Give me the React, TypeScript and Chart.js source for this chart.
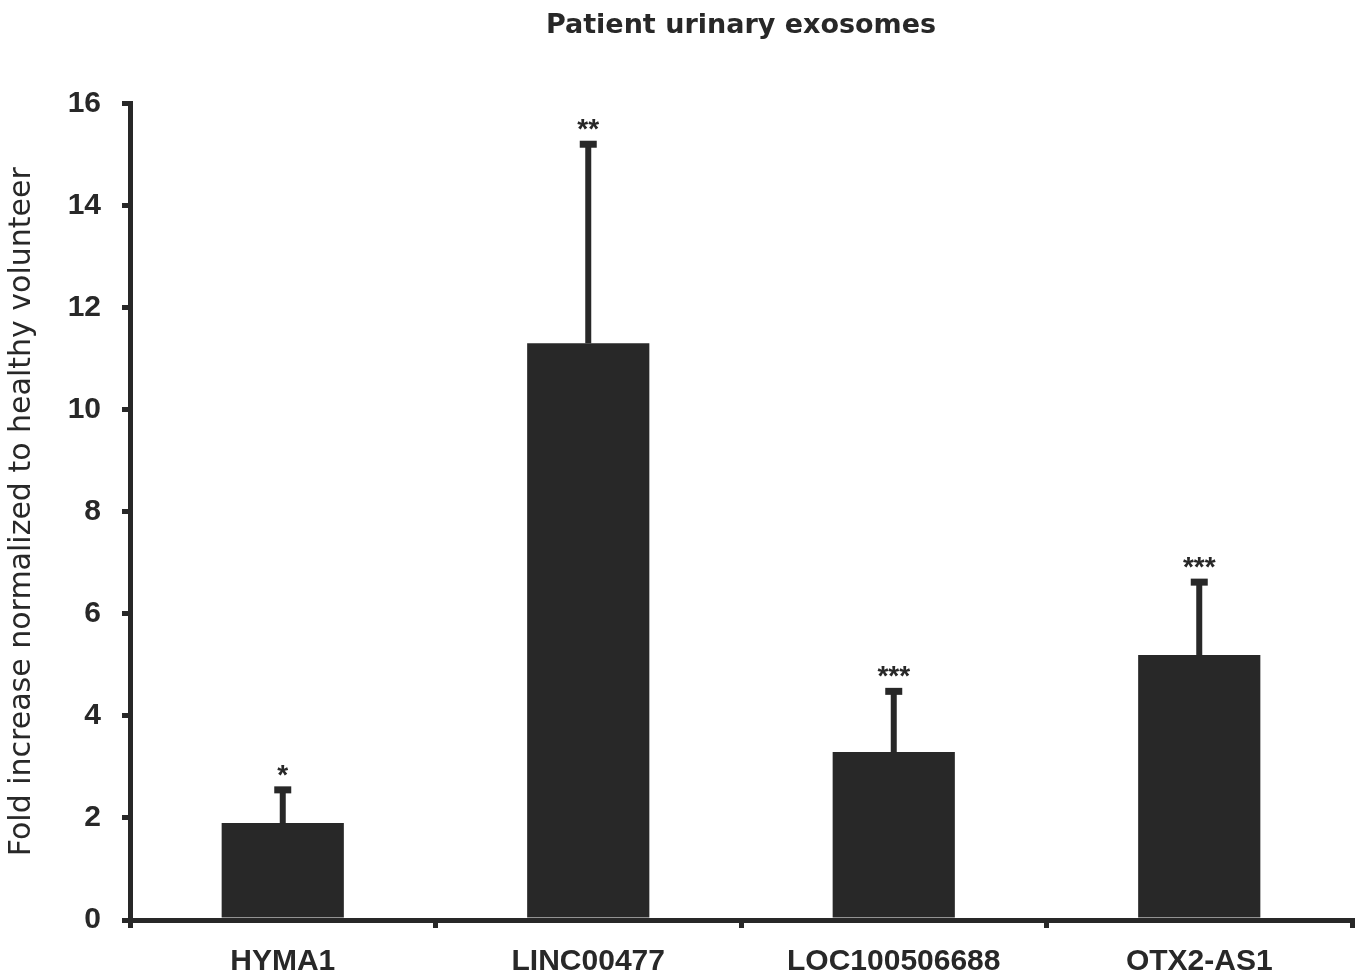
import React, { useEffect, useRef } from "react";
import { Chart, registerables } from "chart.js";

Chart.register(...registerables);

const categories = ["HYMA1", "LINC00477", "LOC100506688", "OTX2-AS1"];
const foldIncrease = [1.9, 11.3, 3.29, 5.19];
const errorUpper = [0.65, 3.9, 1.19, 1.43];
const significance = ["*", "**", "***", "***"];
const yTickMin = 0;
const yTickMax = 16;
const yTickStep = 2;

const INK = "#282828";

const errorBarPlugin = {
  id: "errorBars",
  afterDatasetsDraw(chart: any) {
    const meta = chart.getDatasetMeta(0);
    const yScale = chart.scales.y;
    const ctx = chart.ctx;
    ctx.save();
    meta.data.forEach((bar: any, i: number) => {
      const x = bar.x;
      const yTop = yScale.getPixelForValue(foldIncrease[i]);
      const yErr = yScale.getPixelForValue(foldIncrease[i] + errorUpper[i]);
      ctx.fillStyle = INK;
      ctx.fillRect(x - 3, yErr, 6, yTop - yErr);
      ctx.fillRect(x - 8.5, yErr - 3.5, 17, 7);
      ctx.font = "bold 28px 'Liberation Sans', Arial, sans-serif";
      ctx.textAlign = "center";
      ctx.textBaseline = "alphabetic";
      ctx.fillText(significance[i], x, yErr - 6);
    });
    ctx.restore();
  },
};

export default function App() {
  const canvasRef = useRef<HTMLCanvasElement | null>(null);

  useEffect(() => {
    document.body.style.margin = "0";
    const canvas = canvasRef.current;
    if (!canvas) return;
    const chart = new Chart(canvas, {
      type: "bar",
      data: {
        labels: categories,
        datasets: [
          {
            data: foldIncrease,
            backgroundColor: INK,
            borderWidth: 0,
            barPercentage: 0.4,
            categoryPercentage: 1.0,
          },
        ],
      },
      options: {
        animation: false,
        responsive: false,
        devicePixelRatio: 1,
        layout: { padding: { left: 0, right: 4, top: 0, bottom: 0 } },
        plugins: {
          legend: { display: false },
          tooltip: { enabled: false },
          title: {
            display: true,
            fullSize: false,
            text: "Patient urinary exosomes",
            color: INK,
            font: { family: "'DejaVu Sans', sans-serif", size: 27, weight: "bold", lineHeight: 1.2 },
            padding: { top: 10, bottom: 61 },
          },
        },
        scales: {
          x: {
            offset: true,
            grid: {
              display: true,
              offset: true,
              drawOnChartArea: false,
              drawTicks: true,
              tickLength: 8,
              lineWidth: 5,
              color: INK,
            },
            border: { display: true, color: INK, width: 5 },
            ticks: {
              color: INK,
              padding: 16,
              font: { family: "'Liberation Sans', Arial, sans-serif", size: 30, weight: "bold" },
              maxRotation: 0,
            },
            afterFit(scale: any) {
              scale.height = 55;
            },
          },
          y: {
            min: yTickMin,
            max: yTickMax,
            ticks: {
              stepSize: yTickStep,
              color: INK,
              padding: 21,
              font: { family: "'Liberation Sans', Arial, sans-serif", size: 30, weight: "bold" },
            },
            grid: {
              display: true,
              drawOnChartArea: false,
              drawTicks: true,
              tickLength: 8,
              lineWidth: 5,
              color: INK,
            },
            border: { display: true, color: INK, width: 5 },
            title: {
              display: true,
              text: "Fold increase normalized to healthy volunteer",
              color: INK,
              font: { family: "'DejaVu Sans', sans-serif", size: 30, weight: "normal", lineHeight: 1.2 },
              padding: { top: 4, bottom: 0 },
            },
            afterFit(scale: any) {
              scale.width = 130;
            },
          },
        },
      },
      plugins: [errorBarPlugin],
    });
    return () => chart.destroy();
  }, []);

  return (
    <div style={{ width: 1356, height: 975, background: "#fff" }}>
      <canvas ref={canvasRef} width={1356} height={975} />
    </div>
  );
}
